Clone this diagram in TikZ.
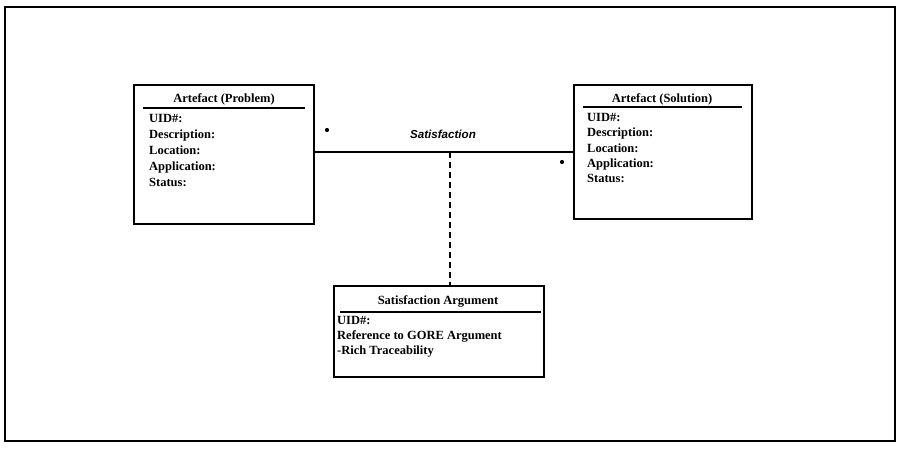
\documentclass[tikz,border=0pt]{standalone}
\usepackage{fontspec}
\setmainfont{Liberation Serif}
\newfontfamily\assocfont{Liberation Sans}
\begin{document}
\begin{tikzpicture}[x=1pt,y=-1pt,
  classbox/.style={draw,line width=1.6pt,rectangle,anchor=north west,inner sep=0pt},
  headtext/.style={font=\fontsize{12.5}{15}\selectfont\bfseries,anchor=base,inner sep=0pt},
  fieldtext/.style={font=\fontsize{12.5}{15}\selectfont\bfseries,anchor=base west,inner sep=0pt},
  headrule/.style={line width=1.4pt},
  assoc/.style={line width=1.4pt},
  enddot/.style={circle,fill,inner sep=0pt,minimum size=4.2pt}]
\useasboundingbox (0,0) rectangle (898,449);
% outer frame
\draw[line width=1.6pt] (5,7) rectangle (895,441);

% Artefact (Problem)
\node[classbox,minimum width=180pt,minimum height=139pt] (prob) at (133,84) {};
\node[headtext] (probh) at (224,103) {Artefact (Problem)};
\draw[headrule] (143,108) -- (305,108);
\node[fieldtext] (p1) at (149,123) {UID\#:};
\node[fieldtext] (p2) at (149,139) {Description:};
\node[fieldtext] (p3) at (149,155) {Location:};
\node[fieldtext] (p4) at (149,171) {Application:};
\node[fieldtext] (p5) at (149,187) {Status:};

% Artefact (Solution)
\node[classbox,minimum width=178pt,minimum height=134pt] (sol) at (573,84) {};
\node[headtext] (solh) at (662,103) {Artefact (Solution)};
\draw[headrule] (583,107) -- (742,107);
\node[fieldtext] (s1) at (587,122) {UID\#:};
\node[fieldtext] (s2) at (587,137) {Description:};
\node[fieldtext] (s3) at (587,153) {Location:};
\node[fieldtext] (s4) at (587,168) {Application:};
\node[fieldtext] (s5) at (587,183) {Status:};

% Satisfaction Argument
\node[classbox,minimum width=210pt,minimum height=91pt] (arg) at (333,285) {};
\node[headtext] (argh) at (438,305) {Satisfaction Argument};
\draw[headrule] (340,312) -- (541,312);
\node[fieldtext] (a1) at (337,325) {UID\#:};
\node[fieldtext] (a2) at (337,340) {Reference to GORE Argument};
\node[fieldtext] (a3) at (337,355) {-Rich Traceability};

% association between the two artefacts
\coordinate (lvl) at (0,152);
\draw[assoc] (prob.east |- lvl) -- (sol.west |- lvl);
\node[font=\assocfont\fontsize{11.6}{14}\selectfont\bfseries\itshape,anchor=base,inner sep=0pt] (satl) at (443,139) {Satisfaction};
\node[enddot] (dl) at (327,130) {};
\node[enddot] (dr) at (562,162) {};

% association class link
\coordinate (mid) at (450,152);
\draw[line width=1.4pt,dash pattern=on 6pt off 4pt] (mid) -- (mid |- arg.north);
\end{tikzpicture}
\end{document}
